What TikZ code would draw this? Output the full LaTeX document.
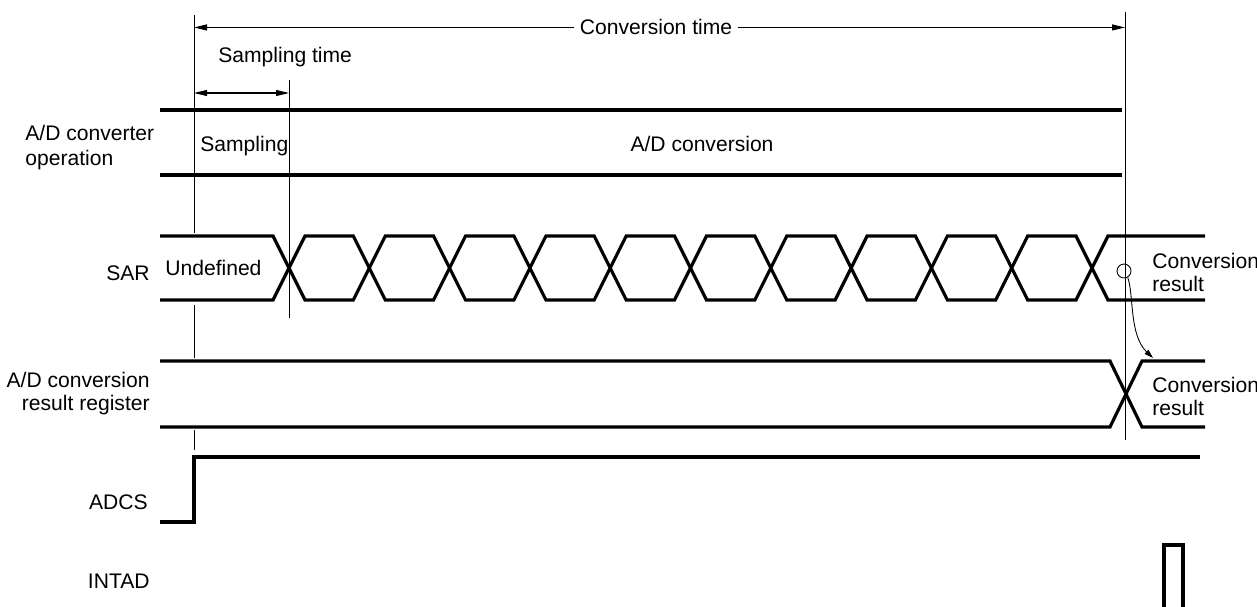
\documentclass[tikz,border=0pt]{standalone}
\usepackage{fontspec}
\setmainfont{Liberation Sans}
\usetikzlibrary{arrows.meta}

\begin{document}
\begin{tikzpicture}[x=0.2mm,y=-0.2mm,
  every node/.style={font=\fontsize{12}{14}\selectfont,inner sep=0pt},
  bus/.style={line width=1.8pt},
  guide/.style={line width=0.5pt},
  dimline/.style={line width=0.6pt,-{Triangle[length=2.6mm,width=1.2mm]}}]
  \useasboundingbox (0,0) rectangle (1257,607);
  % guide lines
  \coordinate (tL) at (194,15);
  \coordinate (tS) at (289,80);
  \coordinate (tR) at (1125,12);
  \draw[guide] (tL) -- (194,233);
  \draw[guide] (194,305) -- (194,358);
  \draw[guide] (194,430) -- (194,450);
  \draw[guide] (tS) -- (289,318);
  \draw[guide] (tR) -- (1125,440);
  % conversion time
  \node[anchor=base,inner xsep=1mm] (convtime) at (656,35) {Conversion time};
  \draw[dimline] (convtime.west) -- (convtime.west -| tL);
  \draw[dimline] (convtime.east) -- (convtime.east -| tR);
  % sampling time
  \node[anchor=base west] (samptime) at (218,63) {Sampling time};
  \coordinate (sampL) at (194,93);
  \coordinate (sampR) at (289,93);
  \draw[dimline,{Triangle[length=2.6mm,width=1.2mm]}-{Triangle[length=2.6mm,width=1.2mm]}] (sampL) -- (sampR);
  % A/D converter operation
  \node[anchor=base west] (lblOp1) at (25,140) {A/D converter};
  \node[anchor=base west] (lblOp2) at (25,165) {operation};
  \draw[bus] (160,110) -- (1122,110);
  \draw[bus] (160,175) -- (1122,175);
  \node[anchor=base west] (sampling) at (200,151) {Sampling};
  \node[anchor=base] (conversion) at (702,151) {A/D conversion};
  % SAR
  \node[anchor=base east] (lblSar) at (150,280) {SAR};
  \node[anchor=base west] (undef) at (165,275) {Undefined};
  \draw[bus] (160,236) foreach \i in {0,...,10} {
    -- ({273+80.3*\i},{236+64*mod(\i,2)}) -- ({305+80.3*\i},{300-64*mod(\i,2)})
  } -- (1205,300);
  \draw[bus] (160,300) foreach \i in {0,...,10} {
    -- ({273+80.3*\i},{300-64*mod(\i,2)}) -- ({305+80.3*\i},{236+64*mod(\i,2)})
  } -- (1205,236);
  \node[anchor=base west] (sarRes1) at (1152,268) {Conversion};
  \node[anchor=base west] (sarRes2) at (1152,291) {result};
  % result register
  \node[anchor=base east] (lblReg1) at (150,387) {A/D conversion};
  \node[anchor=base east] (lblReg2) at (150,410) {result register};
  \draw[bus] (160,361) -- (1110,361) -- (1142,427) -- (1205,427);
  \draw[bus] (160,427) -- (1110,427) -- (1142,361) -- (1205,361);
  \node[anchor=base west] (regRes1) at (1152,392) {Conversion};
  \node[anchor=base west] (regRes2) at (1152,415) {result};
  % transfer
  \node[circle,draw,line width=0.5pt,minimum size=2.8mm] (pick) at (1124,271) {};
  \coordinate (regTop) at (1153,358);
  \draw[line width=0.5pt,-{Triangle[length=1.8mm,width=1.1mm]}]
    (pick.-60) .. controls (1134,295) and (1129,335) .. (regTop);
  % ADCS
  \node[anchor=base east] (lblAdcs) at (148,509) {ADCS};
  \draw[bus] (160,522) -- (194,522) -- (194,457) -- (1200,457);
  % INTAD
  \node[anchor=base east] (lblIntad) at (150,588) {INTAD};
  \draw[bus] (1164,607) -- (1164,545) -- (1183,545) -- (1183,607);
\end{tikzpicture}
\end{document}
